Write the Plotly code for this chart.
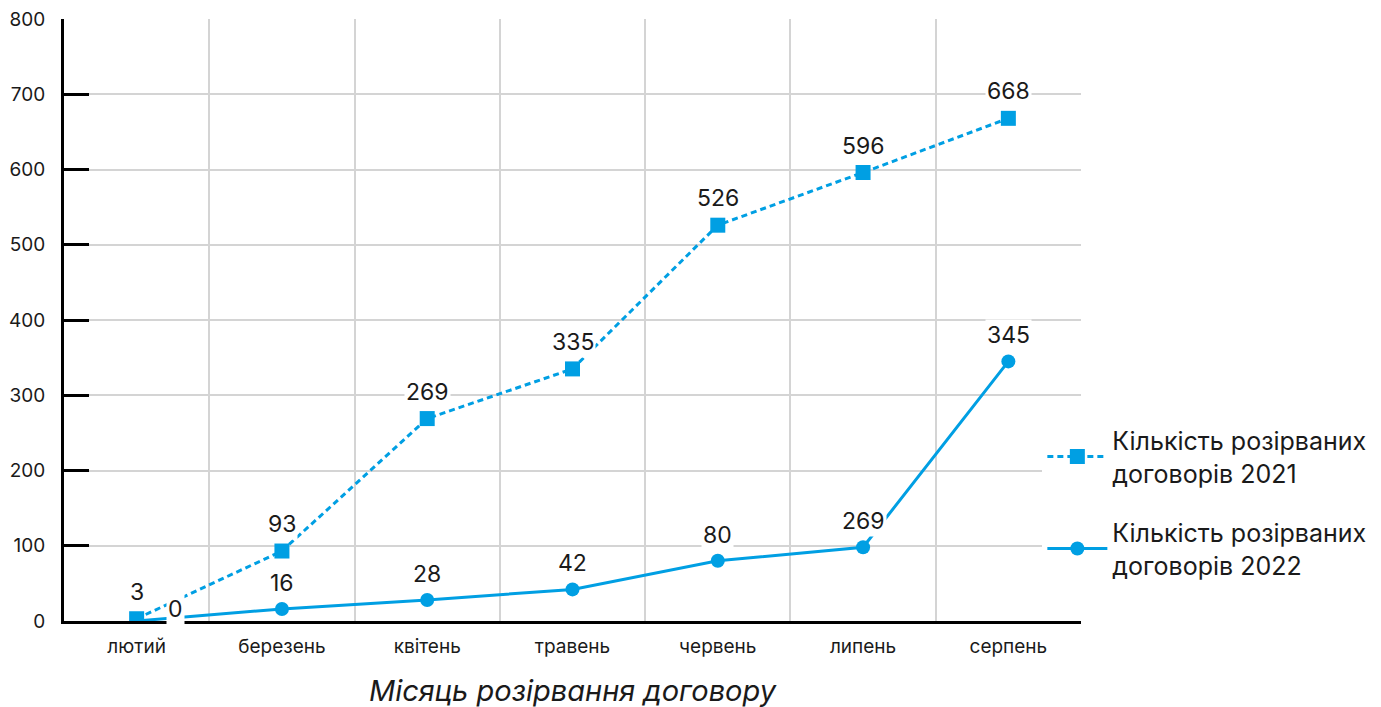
import plotly.graph_objects as go

months = ["лютий", "березень", "квітень", "травень", "червень", "липень", "серпень"]
vals_2021 = [3, 93, 269, 335, 526, 596, 668]
vals_2022 = [0, 16, 28, 42, 80, 98, 345]
labels_2021 = ["3", "93", "269", "335", "526", "596", "668"]
labels_2022 = ["0", "16", "28", "42", "80", "269", "345"]
y_ticks = [0, 100, 200, 300, 400, 500, 600, 700, 800]

name_2021 = "Кількість розірваних<br>договорів 2021"
name_2022 = "Кількість розірваних<br>договорів 2022"

BLUE = "#009FE3"
FONT = "Inter"
TXT = "#1a1a1a"

fig = go.Figure()
fig.add_trace(go.Scatter(
    x=months, y=vals_2021, name=name_2021, mode="lines+markers",
    line=dict(color=BLUE, width=3, dash="6px,4px"),
    marker=dict(symbol="square", size=15, color=BLUE),
    legendgroup="a",
))
fig.add_trace(go.Scatter(
    x=months, y=vals_2022, name=name_2022, mode="lines+markers",
    line=dict(color=BLUE, width=3),
    marker=dict(symbol="circle", size=14, color=BLUE),
    legendgroup="b",
))

annotations = []
for m, v, t in zip(months, vals_2021, labels_2021):
    annotations.append(dict(x=m, y=v, text=t, showarrow=False, yshift=27,
                            bgcolor="white", borderpad=1,
                            font=dict(family=FONT, size=23, color=TXT)))
for i, (m, v, t) in enumerate(zip(months, vals_2022, labels_2022)):
    if i == 0:
        annotations.append(dict(x=m, y=v, text=t, showarrow=False, xshift=39, yshift=12,
                                bgcolor="white", borderpad=1,
                                font=dict(family=FONT, size=23, color=TXT)))
    else:
        annotations.append(dict(x=m, y=v, text=t, showarrow=False, yshift=26,
                                bgcolor="white", borderpad=1,
                                font=dict(family=FONT, size=23, color=TXT)))

fig.update_layout(
    width=1381, height=707,
    margin=dict(l=56, r=308, t=11, b=94),
    paper_bgcolor="white", plot_bgcolor="white",
    font=dict(family=FONT, color=TXT),
    annotations=annotations,
    showlegend=True,
    legend=dict(
        x=0.962, y=0.338, xanchor="left", yanchor="top",
        bgcolor="white", font=dict(family=FONT, size=25, color=TXT),
        itemwidth=60, tracegroupgap=24, traceorder="grouped",
    ),
    xaxis=dict(
        type="category", range=[-0.5, 6.5], tickson="boundaries",
        showgrid=True, gridcolor="#d4d4d4", gridwidth=1.5,
        showline=True, linecolor="black", linewidth=3,
        ticks="", ticklabelstandoff=6, automargin=False,
        tickfont=dict(family=FONT, size=19, color=TXT),
        title=dict(text="<i>Місяць розірвання договору</i>", standoff=24,
                   font=dict(family=FONT, size=29, color=TXT)),
        zeroline=False,
    ),
    yaxis=dict(
        range=[0, 800], tickvals=y_ticks, automargin=False,
        ticklabeloverflow="allow",
        showgrid=True, gridcolor="#d4d4d4", gridwidth=1.5,
        showline=True, linecolor="black", linewidth=3,
        ticks="inside", ticklen=25, tickwidth=3, tickcolor="black",
        ticklabelstandoff=12,
        tickfont=dict(family=FONT, size=19, color=TXT),
        zeroline=False,
    ),
)

fig.write_html("out.html")
